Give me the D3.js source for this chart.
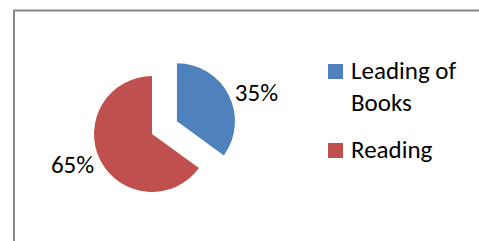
<!DOCTYPE html>
<html>
<head>
<meta charset="utf-8">
<script src="https://cdn.jsdelivr.net/npm/d3@7"></script>
<style>
  html, body { margin: 0; padding: 0; background: #fff; }
  svg { display: block; }
  text { font-family: Carlito, Calibri, Lato, "Open Sans", sans-serif; fill: #000; }
</style>
</head>
<body>
<svg id="chart" width="479" height="241"></svg>
<script>
const categories = ["Leading of Books", "Reading"];
const legendLines = [["Leading of", "Books"], ["Reading"]];
const values = [35, 65];
const percentLabels = ["35%", "65%"];
const colors = ["#4F81BD", "#C0504D"];
const exploded = [true, false];

const svg = d3.select("#chart");
const W = 479, H = 241;

// chart border (left + top visible)
svg.append("path")
  .attr("d", `M14,${H} L14,10.5 L${W},10.5`)
  .attr("fill", "none")
  .attr("stroke", "#888")
  .attr("stroke-width", 2);

const cx = 152, cy = 134, radius = 58, explodeDist = 28;
const fontSize = 25;

const pie = d3.pie().sort(null).value(d => d)
  .startAngle(0).endAngle(2 * Math.PI);
const arcs = pie(values);
const arc = d3.arc().innerRadius(0).outerRadius(radius);

const g = svg.append("g").attr("transform", `translate(${cx},${cy})`);

arcs.forEach((a, i) => {
  const mid = (a.startAngle + a.endAngle) / 2;
  const off = exploded[i] ? explodeDist : 0;
  const ox = Math.sin(mid) * off, oy = -Math.cos(mid) * off;
  const sg = g.append("g").attr("transform", `translate(${ox},${oy})`);
  sg.append("path").attr("d", arc(a)).attr("fill", colors[i]);
  const lr = radius + 7;
  const lx = Math.sin(mid) * lr, ly = -Math.cos(mid) * lr;
  sg.append("text")
    .attr("x", lx)
    .attr("y", ly + 9)
    .attr("text-anchor", lx >= 0 ? "start" : "end")
    .attr("font-size", fontSize)
    .text(percentLabels[i]);
});

// legend
const legendX = 328, legendY = [64, 143], sw = 15;
const lg = svg.append("g");
categories.forEach((c, i) => {
  lg.append("rect")
    .attr("x", legendX).attr("y", legendY[i])
    .attr("width", sw).attr("height", sw)
    .attr("fill", colors[i]);
  const t = lg.append("text")
    .attr("x", legendX + 23)
    .attr("y", legendY[i] + 15)
    .attr("font-size", fontSize);
  legendLines[i].forEach((line, j) => {
    t.append("tspan")
      .attr("x", legendX + 23)
      .attr("dy", j === 0 ? 0 : 32)
      .text(line);
  });
});
</script>
</body>
</html>
